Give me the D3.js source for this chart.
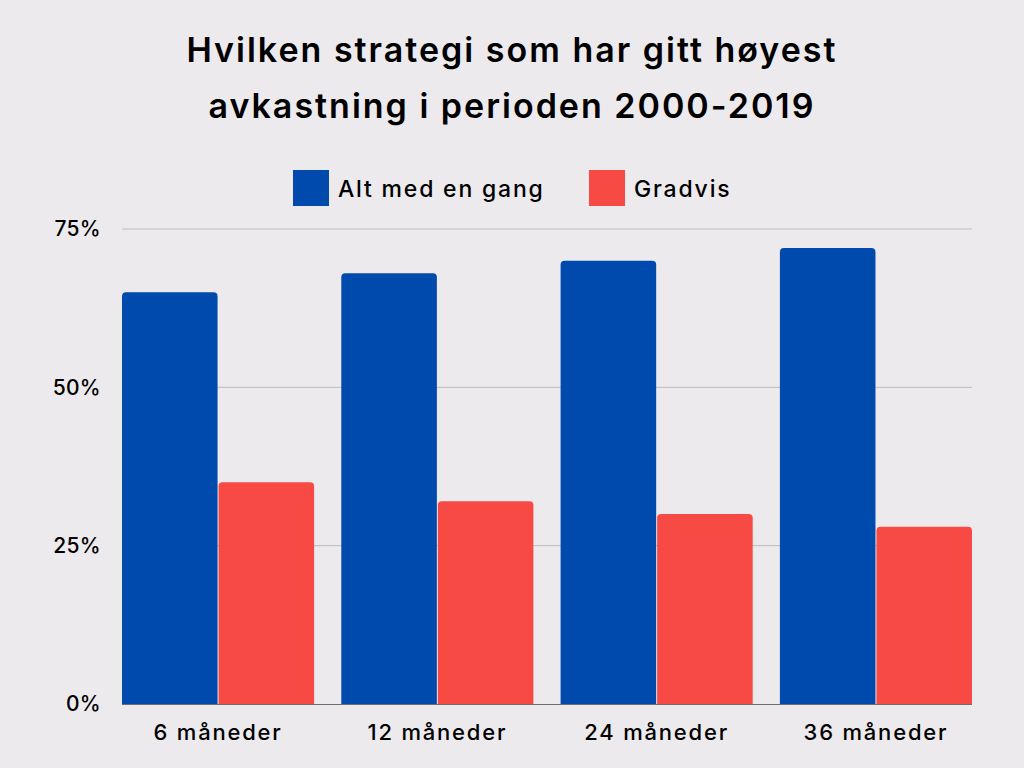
<!DOCTYPE html>
<html><head><meta charset="utf-8">
<script src="https://cdn.jsdelivr.net/npm/d3@7"></script>
<style>
html,body{margin:0;padding:0;background:#ECEAED;}
svg{display:block;font-family:Inter,"Open Sans",sans-serif;}
</style></head>
<body>
<svg id="chart" width="1024" height="768"></svg>
<script>
const categories = ["6 måneder","12 måneder","24 måneder","36 måneder"];
const seriesNames = ["Alt med en gang","Gradvis"];
const altMedEnGang = [65,68,70,72];
const gradvis = [35,32,30,28];
const yTicks = [0,25,50,75];
const titleLines = ["Hvilken strategi som har gitt høyest","avkastning i perioden 2000-2019"];
const colors = ["#004AAD","#F84A44"];

const svg = d3.select("#chart");
svg.append("rect").attr("width",1024).attr("height",768).attr("fill","#ECEAED");

const x0 = d3.scaleBand().domain(categories).range([122,972]).paddingInner(0.124).paddingOuter(0);
const x1 = d3.scaleBand().domain(seriesNames).range([0,x0.bandwidth()]).paddingInner(0.01);
const y = d3.scaleLinear().domain([0,75]).range([704,229]);

// title
svg.append("g").selectAll("text").data(titleLines).join("text")
  .attr("x",512).attr("y",(d,i)=>62+i*56)
  .attr("text-anchor","middle").attr("font-size",34).attr("font-weight",600)
  .attr("letter-spacing","2px")
  .attr("fill","#000").text(d=>d);

// y axis labels
const yAxis = d3.axisLeft(y).tickValues(yTicks).tickFormat(d=>d+"%").tickSize(0).tickPadding(21);
const gy = svg.append("g").attr("transform","translate(122,0)").call(yAxis);
gy.select(".domain").remove();
gy.selectAll("text").attr("font-size",21).attr("fill","#000").attr("font-family","Inter,sans-serif").attr("font-weight",500).attr("letter-spacing","0.3px");

// gridlines
svg.append("g").selectAll("line").data(yTicks.filter(d=>d>0)).join("line")
  .attr("x1",122).attr("x2",972).attr("y1",d=>y(d)).attr("y2",d=>y(d))
  .attr("stroke","#BDBBBE").attr("stroke-width",1);

// bars
const rows = categories.map((c,i)=>({cat:c, vals:[altMedEnGang[i], gradvis[i]]}));
const r = 4;
function topRounded(x,yTop,w,yBase){
  const h = yBase-yTop;
  const rr = Math.min(r,h/2,w/2);
  return `M${x},${yBase}V${yTop+rr}Q${x},${yTop} ${x+rr},${yTop}H${x+w-rr}Q${x+w},${yTop} ${x+w},${yTop+rr}V${yBase}Z`;
}
const g = svg.append("g").selectAll("g").data(rows).join("g")
  .attr("transform",d=>`translate(${x0(d.cat)},0)`);
g.selectAll("path").data(d=>d.vals.map((v,j)=>({name:seriesNames[j],v,j}))).join("path")
  .attr("d",d=>topRounded(x1(d.name),y(d.v),x1.bandwidth(),y(0)))
  .attr("fill",d=>colors[d.j]);

// baseline
svg.append("line").attr("x1",122).attr("x2",972).attr("y1",y(0)+0.5).attr("y2",y(0)+0.5)
  .attr("stroke","#6E6C70").attr("stroke-width",1);

// x axis labels
const xAxis = d3.axisBottom(x0).tickSize(0).tickPadding(20);
const gx = svg.append("g").attr("transform",`translate(0,${y(0)})`).call(xAxis);
gx.select(".domain").remove();
gx.selectAll("text").attr("font-size",22).attr("fill","#000").attr("font-family","Inter,sans-serif").attr("font-weight",500).attr("letter-spacing","1.8px");

// legend
const legendX = [293,589];
const lg = svg.append("g").selectAll("g").data(seriesNames).join("g")
  .attr("transform",(d,i)=>`translate(${legendX[i]},170)`);
lg.append("rect").attr("width",36).attr("height",36).attr("fill",(d,i)=>colors[i]);
lg.append("text").attr("x",45).attr("y",27).attr("font-size",23).attr("font-weight",500).attr("letter-spacing","1.8px").attr("fill","#000").text(d=>d);
</script>
</body></html>
